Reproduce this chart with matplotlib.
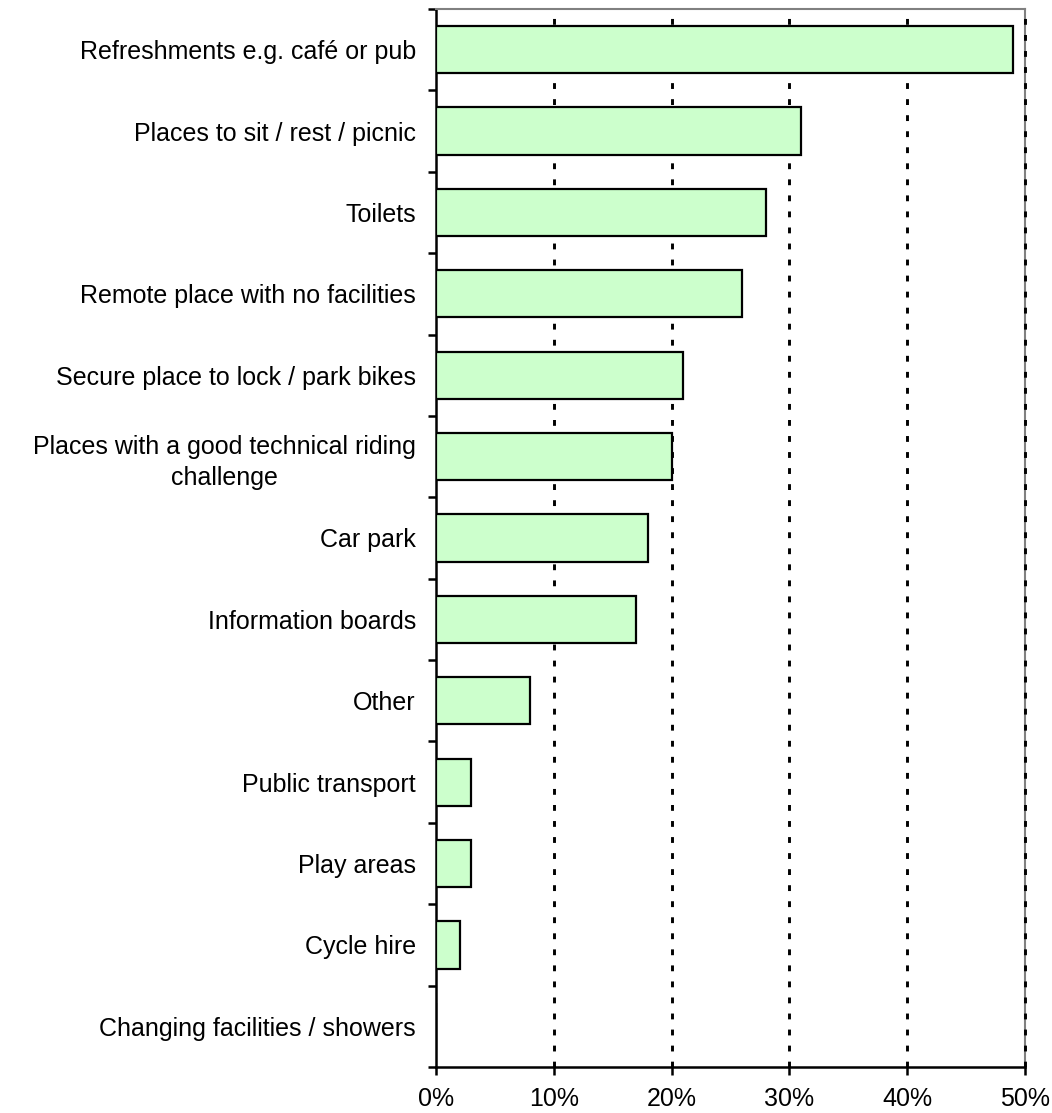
import matplotlib
matplotlib.use("Agg")
import matplotlib.pyplot as plt
from matplotlib.ticker import FuncFormatter

categories = [
    "Refreshments e.g. café or pub",
    "Places to sit / rest / picnic",
    "Toilets",
    "Remote place with no facilities",
    "Secure place to lock / park bikes",
    "Places with a good technical riding\nchallenge",
    "Car park",
    "Information boards",
    "Other",
    "Public transport",
    "Play areas",
    "Cycle hire",
    "Changing facilities / showers",
]
values = [49, 31, 28, 26, 21, 20, 18, 17, 8, 3, 3, 2, 0]
xticks = [0, 10, 20, 30, 40, 50]

plt.rcParams['font.family'] = ['Liberation Sans', 'DejaVu Sans']

fig = plt.figure(figsize=(10.52, 11.13), dpi=100)
ax = fig.add_axes([436/1052, 1 - 1067/1113, (1025-436)/1052, (1067-9)/1113])

n = len(categories)
ypos = list(range(n))
ax.barh(ypos, values, height=0.58, color='#CCFFCC', edgecolor='black', linewidth=1.6, zorder=3)

ax.set_ylim(n - 0.5, -0.5)
ax.set_xlim(0, 50)

for x in xticks[1:]:
    z = 5 if x == xticks[-1] else 2
    ax.axvline(x, color='black', linestyle=(0, (2, 3.5)), linewidth=2.1, zorder=z, clip_on=False)

ax.set_xticks(xticks)
ax.xaxis.set_major_formatter(FuncFormatter(lambda v, p: f"{int(v)}%"))
ax.tick_params(axis='x', direction='out', length=5.5, width=1.8, pad=9, labelsize=18)

ax.set_yticks([i + 0.5 for i in range(-1, n)], minor=False)
ax.set_yticklabels([])
ax.tick_params(axis='y', which='major', direction='out', length=6, width=1.8)
ax.set_yticks(ypos, minor=True)
ax.set_yticklabels(categories, minor=True, fontsize=18, multialignment='center', linespacing=1.35)
ax.tick_params(axis='y', which='minor', length=0, pad=14.5)

for s in ['left', 'bottom']:
    ax.spines[s].set_color('black')
    ax.spines[s].set_linewidth(1.8)
for s in ['top', 'right']:
    ax.spines[s].set_color('#808080')
    ax.spines[s].set_linewidth(1.5)

fig.savefig("out.png", dpi=100)
